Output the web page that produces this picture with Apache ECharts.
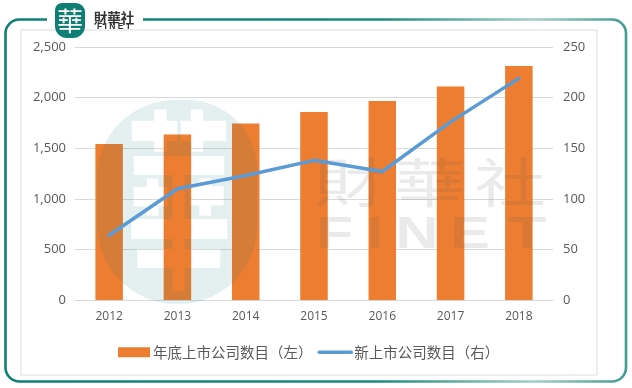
<!DOCTYPE html>
<html><head><meta charset="utf-8">
<script src="https://cdn.jsdelivr.net/npm/echarts@6/dist/echarts.min.js"></script>
<style>html,body{margin:0;padding:0;background:#fff}#c{width:632px;height:388px}</style></head>
<body><div id="c"></div>
<script>
const years = ['2012','2013','2014','2015','2016','2017','2018'];
const listedTotal = [1541,1635,1744,1858,1966,2110,2312];
const newListings = [64,110,123,138,127,176,219];
const seriesNames = ['年底上市公司数目（左）','新上市公司数目（右）'];
const chart = echarts.init(document.getElementById('c'),null,{renderer:'canvas'});
const labelFont = {color:'#595959',fontSize:12,fontFamily:'"Open Sans","Noto Sans",sans-serif'};
const teal = new echarts.graphic.LinearGradient(0,0,1,0,[
 {offset:0,color:'#0f7f76'},{offset:0.6,color:'#1b8a80'},{offset:0.85,color:'#a3cfc7'},{offset:1,color:'#3e9a8f'}]);
const wmFill = 'rgba(90,90,90,0.13)';
const wmChar = (t,x)=>({type:'text',z:20,silent:true,x,y:183,scaleY:0.74,originX:x,originY:0,
  style:{text:t,fill:wmFill,fontSize:72,fontFamily:'"Noto Sans CJK TC"',align:'center',verticalAlign:'middle'}});
const wmLetter = (t,x,sx)=>({type:'text',z:20,silent:true,x,y:236,scaleX:sx,
  style:{text:t,fill:wmFill,fontSize:44,fontWeight:'bold',fontFamily:'Liberation Sans',align:'center',verticalAlign:'middle'}});
// watermark seal: a tinted blob with the character knocked out of it
function sealImage(){
  const c=document.createElement('canvas');c.width=160;c.height=204;
  const g=c.getContext('2d');
  g.fillStyle='rgba(15,127,118,0.115)';
  g.beginPath();g.roundRect(0,0,160,204,[78,70,78,80]);g.fill();
  g.globalCompositeOperation='destination-out';
  g.fillStyle='#000';g.font='bold 170px "Noto Sans CJK TC"';g.textAlign='center';g.textBaseline='middle';
  g.translate(82,100);g.scale(0.62,1.14);g.fillText('華',0,0);
  return c;
}
chart.setOption({
 animation:false,
 backgroundColor:'#fff',
 grid:{left:75,right:79,top:47,bottom:88},
 legend:{
  top:345,left:118,padding:0,itemWidth:32,itemHeight:10,itemGap:5,
  textStyle:{color:'#595959',fontSize:14.5,fontFamily:'"Noto Sans CJK SC"',padding:[0,0,0,-2]},
  data:[{name:seriesNames[0],icon:'rect'},
        {name:seriesNames[1],itemStyle:{color:'rgba(0,0,0,0)',opacity:0,borderWidth:0},lineStyle:{width:3.5,color:'#5b9bd5',opacity:1}}]
 },
 xAxis:{type:'category',data:years,axisTick:{show:false},
  axisLine:{lineStyle:{color:'#d9d9d9',width:1}},
  axisLabel:{...labelFont,margin:11}},
 yAxis:[
  {type:'value',min:0,max:2500,interval:500,
   axisLabel:{...labelFont,fontSize:13,margin:9,formatter:v=>v.toLocaleString('en-US')},
   axisLine:{show:false},axisTick:{show:false},
   splitLine:{lineStyle:{color:'#d9d9d9',width:1}}},
  {type:'value',min:0,max:250,interval:50,position:'right',
   axisLabel:{...labelFont,fontSize:13,margin:10},
   axisLine:{show:false},axisTick:{show:false},splitLine:{show:false}}
 ],
 series:[
  {name:seriesNames[0],type:'bar',yAxisIndex:0,data:listedTotal,barWidth:27.5,itemStyle:{color:'#ed7d31'}},
  {name:seriesNames[1],type:'line',z:30,yAxisIndex:1,data:newListings,symbol:'none',
   lineStyle:{color:'#5b9bd5',width:3.5,cap:'round',join:'round'},itemStyle:{color:'#5b9bd5'}}
 ],
 graphic:[
  {type:'rect',z:1,shape:{x:5.5,y:19.5,width:620.5,height:362,r:14},style:{fill:'none',stroke:teal,lineWidth:2.6}},
  {type:'rect',z:2,shape:{x:47,y:14,width:96,height:12},style:{fill:'#fff'}},
  {type:'rect',z:3,shape:{x:21,y:30,width:576,height:345},style:{fill:'none',stroke:'#dcdcdc',lineWidth:1}},
  // logo
  {type:'rect',z:5,shape:{x:55,y:3,width:30,height:35,r:[7,9,12,12]},style:{fill:'#0f7f76'}},
  {type:'text',z:6,x:70,y:21,style:{text:'華',fill:'#fff',fontSize:26,fontFamily:'"Noto Sans CJK TC"',align:'center',verticalAlign:'middle'}},
  {type:'text',z:6,x:114,y:17.5,style:{text:'財華社',fill:'#333',fontSize:13.5,fontWeight:'bold',fontFamily:'"Noto Sans CJK TC"',align:'center',verticalAlign:'middle'}},
  {type:'text',z:6,x:114,y:27,style:{text:'F I N E T',fill:'#333',fontSize:8.5,fontWeight:'bold',fontFamily:'Liberation Sans',align:'center',verticalAlign:'middle'}},
  // watermark
  {type:'image',z:20,silent:true,x:97,y:100,style:{image:sealImage(),x:0,y:0,width:160,height:204}},
  wmChar('財',350),wmChar('華',430),wmChar('社',510),
  wmLetter('F',335,1.35),wmLetter('I',375,1.3),wmLetter('N',417,1.35),wmLetter('E',470,1.35),wmLetter('T',527,1.45)
 ]
});
</script></body></html>
